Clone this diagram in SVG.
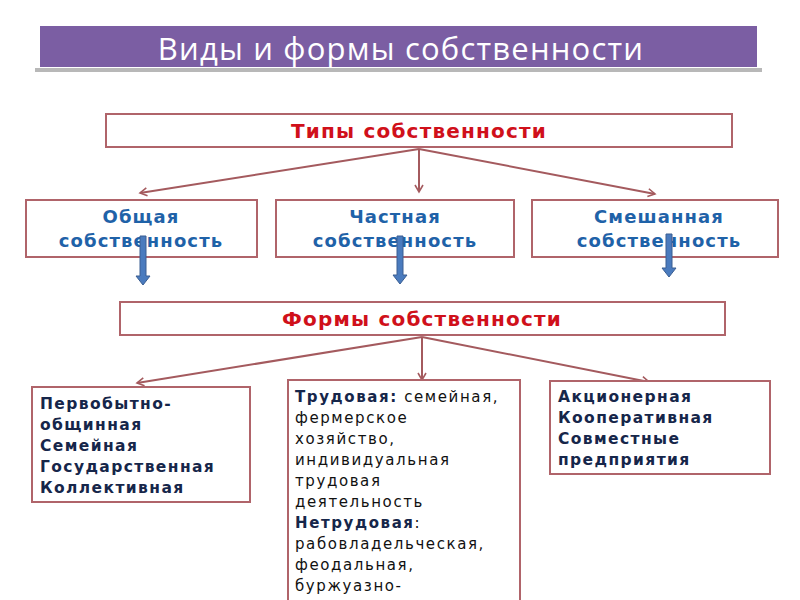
<svg xmlns="http://www.w3.org/2000/svg" width="800" height="600" viewBox="0 0 800 600">
<defs>
<marker id="ah" markerWidth="10" markerHeight="10" refX="8" refY="5" orient="auto" markerUnits="userSpaceOnUse">
<path d="M1,1 L8,5 L1,9" fill="none" stroke="#A45A5E" stroke-width="1.6"/>
</marker>
<style>
.box{fill:#fff;stroke:#B0646A;stroke-width:2}
.hdr{font-family:"DejaVu Sans",sans-serif;font-weight:bold;font-size:20px;fill:#D0101A;text-anchor:middle;letter-spacing:1.2px}
.typ{font-family:"DejaVu Sans",sans-serif;font-weight:bold;font-size:18px;fill:#1F62A8;text-anchor:middle;letter-spacing:1.1px}
.lst{font-family:"DejaVu Sans",sans-serif;font-weight:bold;font-size:15.5px;fill:#16264A;letter-spacing:1.4px}
.txt{font-family:"DejaVu Sans",sans-serif;font-size:15px;fill:#111;letter-spacing:1.6px}
.b{font-weight:bold;fill:#16264A}
.con{stroke:#A45A5E;stroke-width:2;fill:none;marker-end:url(#ah)}
.blue{fill:#4A7BBE;stroke:#3A5E92;stroke-width:1}
</style>
</defs>
<rect width="800" height="600" fill="#fff"/>
<g id="title">
<rect x="35" y="68" width="727" height="4" fill="#B8B8B8"/>
<rect x="40" y="26" width="717" height="41" fill="#7B5EA3"/>
<text x="401" y="60" font-family="Open Sans, sans-serif" font-size="31" letter-spacing="1.2" fill="#fff" text-anchor="middle">Виды и формы собственности</text>
</g>
<g id="connectors">
<line class="con" x1="419" y1="149" x2="140" y2="193"/>
<line class="con" x1="419" y1="149" x2="419" y2="192"/>
<line class="con" x1="419" y1="149" x2="655" y2="194"/>
<line class="con" x1="422" y1="337" x2="137" y2="383"/>
<line class="con" x1="422" y1="337" x2="422" y2="380"/>
<line class="con" x1="422" y1="337" x2="649" y2="382"/>
</g>
<g id="types">
<rect class="box" x="106" y="114" width="626" height="33"/>
<text class="hdr" x="419" y="138">Типы собственности</text>
</g>
<g id="common">
<rect class="box" x="26" y="200" width="231" height="57"/>
<text class="typ" x="141" y="223">Общая</text>
<text class="typ" x="141" y="247">собственность</text>
</g>
<g id="private">
<rect class="box" x="276" y="200" width="238" height="57"/>
<text class="typ" x="395" y="223">Частная</text>
<text class="typ" x="395" y="247">собственность</text>
</g>
<g id="mixed">
<rect class="box" x="532" y="200" width="246" height="57"/>
<text class="typ" x="659" y="223">Смешанная</text>
<text class="typ" x="659" y="247">собственность</text>
</g>
<g id="blue-arrows">
<path class="blue" d="M140,236 H146 V276 H150 L143,285 L136,276 H140 Z"/>
<path class="blue" d="M397,236 H403 V275 H407 L400,284 L393,275 H397 Z"/>
<path class="blue" d="M666,234 H672 V268 H676 L669,277 L662,268 H666 Z"/>
</g>
<g id="forms">
<rect class="box" x="120" y="302" width="605" height="33"/>
<text class="hdr" x="422" y="326">Формы собственности</text>
</g>
<g id="forms-common">
<rect class="box" x="32" y="387" width="218" height="115"/>
<text class="lst" x="40" y="409">Первобытно-</text>
<text class="lst" x="40" y="430">общинная</text>
<text class="lst" x="40" y="451">Семейная</text>
<text class="lst" x="40" y="472">Государственная</text>
<text class="lst" x="40" y="493">Коллективная</text>
</g>
<g id="forms-private">
<rect class="box" x="288" y="380" width="232" height="230"/>
<text class="txt" x="295" y="402"><tspan class="b">Трудовая:</tspan> семейная,</text>
<text class="txt" x="295" y="423">фермерское</text>
<text class="txt" x="295" y="444">хозяйство,</text>
<text class="txt" x="295" y="465">индивидуальная</text>
<text class="txt" x="295" y="486">трудовая</text>
<text class="txt" x="295" y="507">деятельность</text>
<text class="txt" x="295" y="528"><tspan class="b">Нетрудовая</tspan>:</text>
<text class="txt" x="295" y="549">рабовладельческая,</text>
<text class="txt" x="295" y="570">феодальная,</text>
<text class="txt" x="295" y="591">буржуазно-</text>
</g>
<g id="forms-mixed">
<rect class="box" x="550" y="381" width="220" height="93"/>
<text class="lst" x="558" y="402">Акционерная</text>
<text class="lst" x="558" y="423">Кооперативная</text>
<text class="lst" x="558" y="444">Совместные</text>
<text class="lst" x="558" y="465">предприятия</text>
</g>
</svg>
